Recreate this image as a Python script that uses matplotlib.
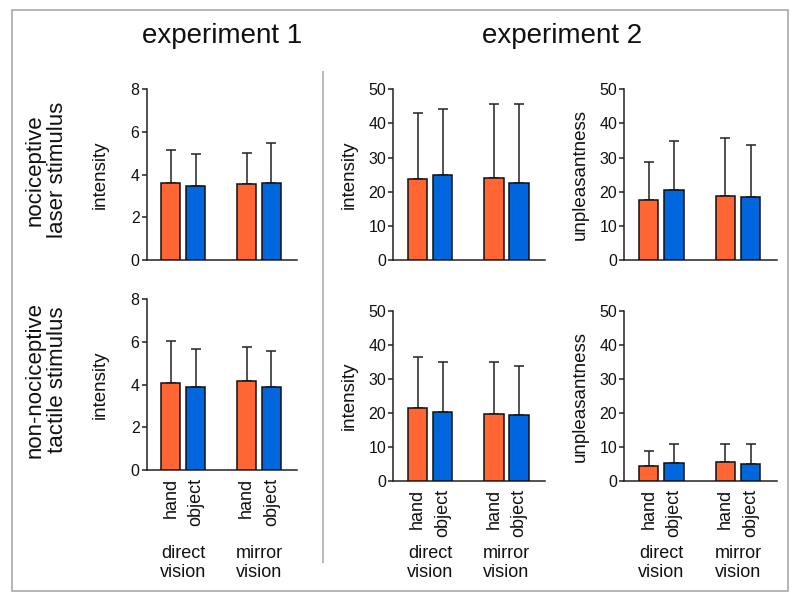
import matplotlib
matplotlib.use("Agg")
import matplotlib.pyplot as plt
import matplotlib.transforms as mtransforms
from matplotlib.patches import Rectangle
from matplotlib.lines import Line2D

plt.rcParams['font.family'] = ['Liberation Sans', 'DejaVu Sans']

# ---- data ----
conditions = ["hand", "object", "hand", "object"]
groups = ["direct\nvision", "mirror\nvision"]
experiments = ["experiment 1", "experiment 2"]
rows = ["nociceptive\nlaser stimulus", "non-nociceptive\ntactile stimulus"]

# experiment 1, intensity (0-8)
exp1_laser_mean = [3.59, 3.45, 3.55, 3.59]
exp1_laser_err = [1.57, 1.50, 1.45, 1.91]
exp1_tactile_mean = [4.09, 3.91, 4.17, 3.91]
exp1_tactile_err = [1.94, 1.75, 1.58, 1.65]

# experiment 2, intensity (0-50)
exp2_int_laser_mean = [23.7, 24.9, 23.9, 22.7]
exp2_int_laser_err = [19.5, 19.4, 21.7, 22.9]
exp2_int_tactile_mean = [21.5, 20.2, 19.6, 19.3]
exp2_int_tactile_err = [15.0, 14.7, 15.5, 14.5]

# experiment 2, unpleasantness (0-50)
exp2_unp_laser_mean = [17.6, 20.6, 18.75, 18.5]
exp2_unp_laser_err = [11.2, 14.2, 16.85, 15.3]
exp2_unp_tactile_mean = [4.5, 5.5, 5.8, 5.2]
exp2_unp_tactile_err = [4.5, 5.5, 5.2, 5.8]

orange = "#FF6633"
blue = "#0066DD"
bar_colors = [orange, blue, orange, blue]

fig = plt.figure(figsize=(8, 6.02), dpi=100)

W, H = 800.0, 602.0

def axes_px(left, right, top, bottom):
    return fig.add_axes([left / W, 1 - bottom / H, (right - left) / W, (bottom - top) / H])

xpos = [0, 1, 3.05, 4.05]
group_x = [0.5, 3.55]

panels = [
    # (left, right, top, bottom, means, errs, ymax, ystep, ylabel, show_x, ylab_frac)
    (146.7, 297.3, 89.3, 260.0, exp1_laser_mean, exp1_laser_err, 8, 2, "intensity", False, -0.31),
    (393.3, 545.0, 89.3, 260.0, exp2_int_laser_mean, exp2_int_laser_err, 50, 10, "intensity", False, -0.292),
    (624.3, 776.7, 89.3, 260.0, exp2_unp_laser_mean, exp2_unp_laser_err, 50, 10, "unpleasantness", False, -0.29),
    (146.7, 297.3, 299.3, 470.0, exp1_tactile_mean, exp1_tactile_err, 8, 2, "intensity", True, -0.31),
    (393.3, 545.0, 310.7, 481.3, exp2_int_tactile_mean, exp2_int_tactile_err, 50, 10, "intensity", True, -0.292),
    (624.3, 776.7, 310.7, 481.3, exp2_unp_tactile_mean, exp2_unp_tactile_err, 50, 10, "unpleasantness", True, -0.29),
]

axis_col = "#222222"
for (l, r, t, b, means, errs, ymax, ystep, ylab, show_x, yfrac) in panels:
    ax = axes_px(l, r, t, b)
    ax.bar(xpos, means, width=0.77, color=bar_colors, edgecolor="#111111",
           linewidth=1.1, zorder=3)
    ax.errorbar(xpos, means, yerr=[[0] * 4, errs], fmt="none", ecolor="#222222",
                elinewidth=1.1, capsize=3.6, capthick=1.1, zorder=2)
    ax.set_xlim(-0.975, 5.09)
    ax.set_ylim(0, ymax)
    ax.set_yticks(range(0, ymax + 1, ystep))
    for s in ["top", "right"]:
        ax.spines[s].set_visible(False)
    for s in ["left", "bottom"]:
        ax.spines[s].set_linewidth(1.1)
        ax.spines[s].set_color(axis_col)
    ax.tick_params(axis="y", length=3.6, width=1.1, pad=1.5, labelsize=11.5,
                   color=axis_col, labelcolor="#111111")
    if show_x:
        ax.set_xticks(xpos, conditions, rotation=90, fontsize=13)
        ax.tick_params(axis="x", length=0, pad=5.5, labelcolor="#111111")
        tr = mtransforms.blended_transform_factory(ax.transData, fig.transFigure)
        for gx, gl in zip(group_x, groups):
            ax.text(gx, 1 - 563 / H, gl, transform=tr, ha="center", va="center",
                    fontsize=13, linespacing=1.15, color="#111111")
    else:
        ax.set_xticks([])
    ax.text(yfrac, 0.5, ylab, transform=ax.transAxes, rotation=90,
            ha="center", va="center", fontsize=13.5, color="#111111")
    ax.set_facecolor("none")

# titles
fig.text(222 / W, 1 - 42.7 / H, experiments[0], ha="center", va="baseline",
         fontsize=20, color="#111111")
fig.text(562 / W, 1 - 42.7 / H, experiments[1], ha="center", va="baseline",
         fontsize=20, color="#111111")

# row labels
fig.text(46 / W, 1 - 170 / H, rows[0], rotation=90, ha="center", va="center",
         fontsize=16, linespacing=1.1, color="#111111")
fig.text(46 / W, 1 - 380 / H, rows[1], rotation=90, ha="center", va="center",
         fontsize=16, linespacing=1.1, color="#111111")

# divider and frame
fig.add_artist(Line2D([322.7 / W, 322.7 / W], [1 - 562 / H, 1 - 72 / H],
                      transform=fig.transFigure, color="#BBBBBB", linewidth=1.5))
fig.add_artist(Rectangle((12 / W, 1 - 591 / H), 776 / W, 581 / H,
                         transform=fig.transFigure, fill=False,
                         edgecolor="#A8A8A8", linewidth=1.2))

fig.savefig("out.png", dpi=100)
